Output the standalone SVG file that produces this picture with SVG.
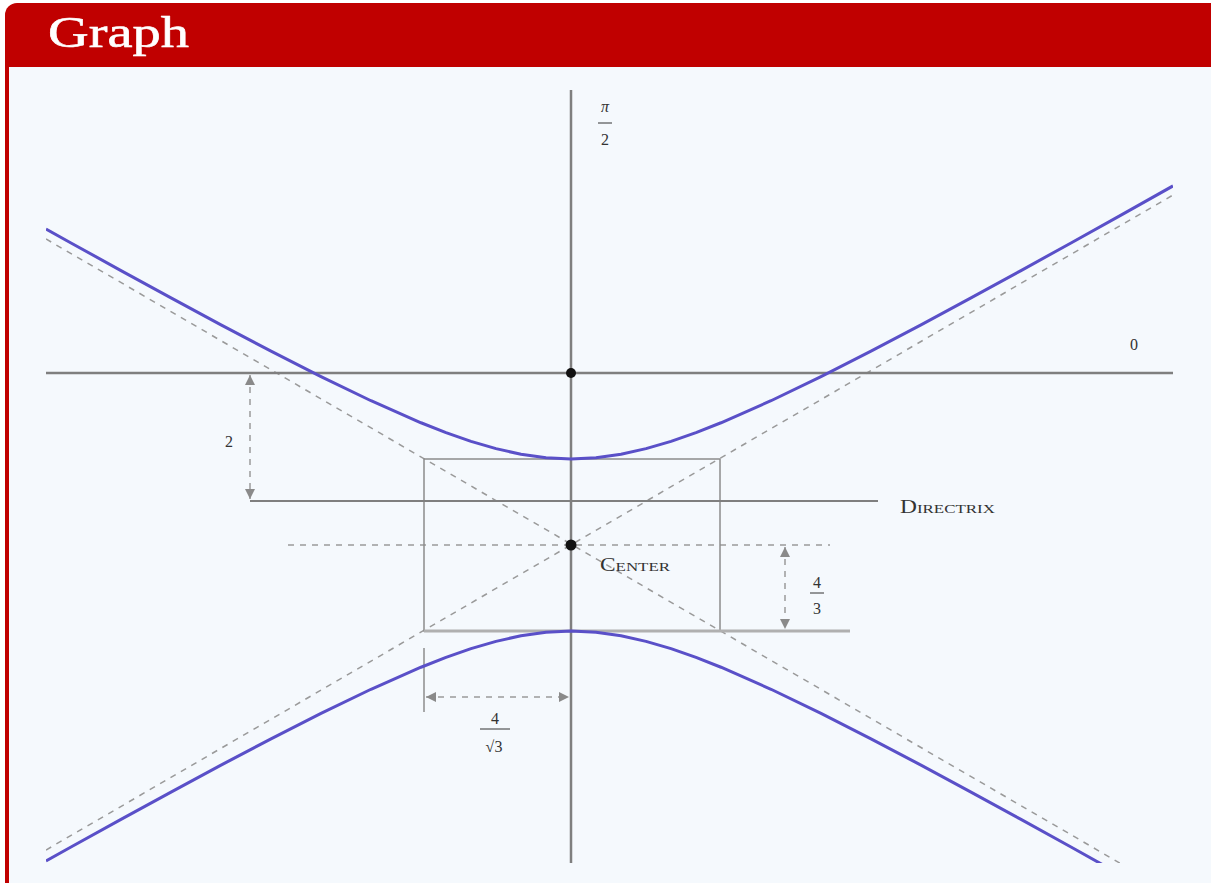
<svg xmlns="http://www.w3.org/2000/svg" width="1211" height="883" viewBox="0 0 1211 883">
<defs>
<style>
.axis{stroke:#7f7f7f;stroke-width:2.5;fill:none}
.thin{stroke:#8c8c8c;stroke-width:1.5;fill:none}
.dash{stroke:#9a9a9a;stroke-width:1.5;stroke-dasharray:6 6;fill:none}
.hyp{stroke:#5a50c8;stroke-width:3;fill:none;stroke-linejoin:round}
.lbl{font-family:"Liberation Serif","DejaVu Serif",serif;fill:#333;font-size:16px}
.sc{font-family:"Liberation Serif","DejaVu Serif",serif;fill:#333;font-size:18px;font-variant:small-caps}
</style>
<marker id="ar" viewBox="0 0 10 10" refX="10" refY="5" markerWidth="11" markerHeight="10" markerUnits="userSpaceOnUse" orient="auto-start-reverse">
<path d="M0,0 L10,5 L0,10 z" fill="#8a8a8a"/>
</marker>
<clipPath id="plot"><rect x="46" y="88" width="1127" height="775"/></clipPath>
</defs>
<g id="frame">
<rect x="5" y="3" width="1230" height="900" rx="12" fill="#c00000"/>
<rect x="9" y="67" width="1202" height="816" fill="#f5f9fd"/>
<text x="48" y="47" font-family="Liberation Serif,DejaVu Serif,serif" font-size="45" fill="#ffffff" stroke="#ffffff" stroke-width="0.6" textLength="141" lengthAdjust="spacingAndGlyphs">Graph</text>
</g>
<g id="connectors" clip-path="url(#plot)">
<line class="dash" x1="46" y1="239" x2="1173" y2="894"/>
<line class="dash" x1="46" y1="850" x2="1173" y2="195"/>
<line class="dash" x1="288" y1="545" x2="830" y2="545"/>
<rect class="thin" x="424" y="459" width="296" height="172"/>
<line x1="424" y1="631" x2="850" y2="631" stroke="#b0b0b0" stroke-width="3"/>
<line class="axis" x1="46" y1="373" x2="1173" y2="373"/>
<line class="axis" x1="571" y1="90" x2="571" y2="865"/>
<line x1="250" y1="501" x2="878" y2="501" stroke="#7f7f7f" stroke-width="2"/>
<line class="thin" x1="424" y1="648" x2="424" y2="712"/>
<line class="dash" x1="250" y1="375" x2="250" y2="499" marker-start="url(#ar)" marker-end="url(#ar)"/>
<line class="dash" x1="785" y1="547" x2="785" y2="629" marker-start="url(#ar)" marker-end="url(#ar)"/>
<line class="dash" x1="426" y1="697" x2="569" y2="697" marker-start="url(#ar)" marker-end="url(#ar)"/>
</g>
<g id="curves" clip-path="url(#plot)">
<polyline class="hyp" points="46,229.03 71,242.94 121,270.57 171,297.90 221,324.82 271,351.14 321,376.60 371,400.74 421,422.76 446,432.59 471,441.32 496,448.65 521,454.26 546,457.79 571,459 596,457.79 621,454.26 646,448.65 671,441.32 696,432.59 721,422.76 771,400.74 821,376.60 871,351.14 921,324.82 971,297.90 1021,270.57 1071,242.94 1121,215.08 1173,185.91"/>
<polyline class="hyp" points="46,860.97 71,847.06 121,819.43 171,792.10 221,765.18 271,738.86 321,713.40 371,689.26 421,667.24 446,657.41 471,648.68 496,641.35 521,635.74 546,632.21 571,631 596,632.21 621,635.74 646,641.35 671,648.68 696,657.41 721,667.24 771,689.26 821,713.40 871,738.86 921,765.18 971,792.10 1021,819.43 1071,847.06 1121,874.92 1173,904.09"/>
</g>
<g id="pole"><circle cx="571" cy="373" r="5" fill="#111"/></g>
<g id="center"><circle cx="571" cy="545" r="5.5" fill="#111"/>
<text class="sc" x="600" y="571" textLength="70" lengthAdjust="spacingAndGlyphs">Center</text></g>
<g id="labels">
<text class="lbl" x="605" y="112" text-anchor="middle" font-style="italic">π</text>
<line x1="598" y1="123" x2="612" y2="123" stroke="#333" stroke-width="1"/>
<text class="lbl" x="605" y="145" text-anchor="middle">2</text>
<text class="lbl" x="1134" y="350" text-anchor="middle">0</text>
<text class="lbl" x="229" y="447" text-anchor="middle">2</text>
<text class="sc" x="900" y="513" textLength="95" lengthAdjust="spacingAndGlyphs">Directrix</text>
<text class="lbl" x="817" y="588" text-anchor="middle">4</text>
<line x1="810" y1="593" x2="824" y2="593" stroke="#333" stroke-width="1"/>
<text class="lbl" x="817" y="614" text-anchor="middle">3</text>
<text class="lbl" x="495" y="724" text-anchor="middle">4</text>
<line x1="480" y1="729" x2="510" y2="729" stroke="#333" stroke-width="1"/>
<text class="lbl" x="494" y="752" text-anchor="middle">√3</text>
</g>
</svg>
